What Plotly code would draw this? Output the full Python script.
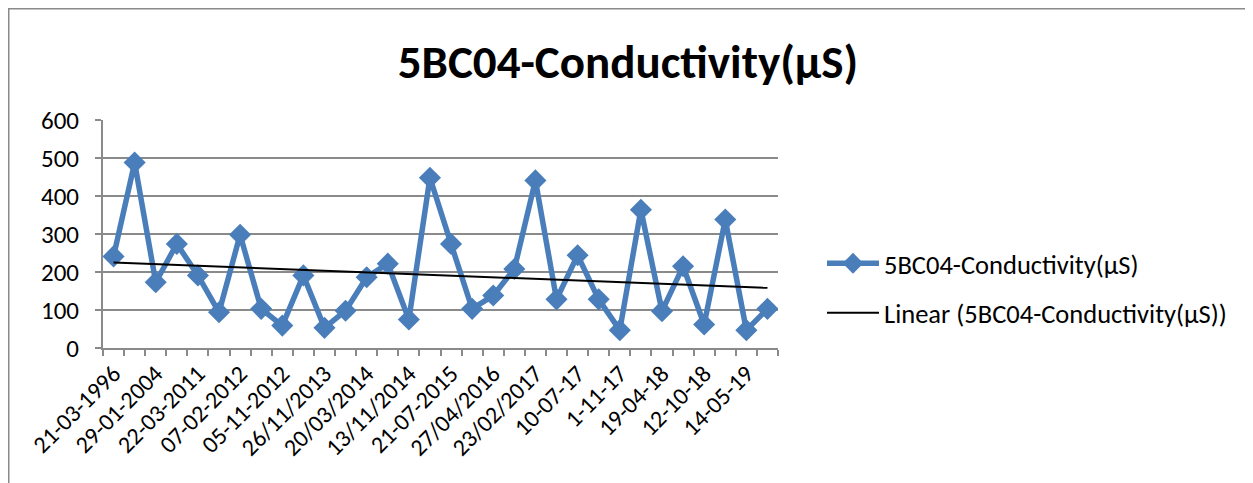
import numpy as np
import plotly.graph_objects as go

# data
tick_labels = ["21-03-1996", "29-01-2004", "22-03-2011", "07-02-2012", "05-11-2012",
               "26/11/2013", "20/03/2014", "13/11/2014", "21-07-2015", "27/04/2016",
               "23/02/2017", "10-07-17", "1-11-17", "19-04-18", "12-10-18", "14-05-19"]
conductivity = [241, 488, 173, 274, 191, 94, 298, 103, 59, 191, 53, 98, 186, 222, 75, 448,
                274, 103, 138, 208, 441, 128, 244, 128, 47, 364, 97, 215, 62, 338, 47, 103]
series_name = "5BC04-Conductivity(µS)"

idx = np.arange(len(conductivity))
slope, intercept = np.polyfit(idx, conductivity, 1)
trend = slope * idx + intercept

# page body has an 8px margin, so the figure is drawn 8px smaller
W, H = 1245, 475
L, R, T, B = 95, 770, 112, 340
pw, ph = R - L, B - T

fig = go.Figure()
fig.add_trace(go.Scatter(
    x=idx, y=conductivity, mode="lines+markers", name=series_name,
    line=dict(color="#4A7EBB", width=5.5),
    marker=dict(symbol="diamond", size=17, color="#4A7EBB"),
    legendgroup="a"))
fig.add_trace(go.Scatter(
    x=idx, y=trend, mode="lines", name="Linear (" + series_name + ")",
    line=dict(color="black", width=2), legendgroup="b"))

grey = "#8a8a8a"
font = "Carlito, Calibri, 'Open Sans', sans-serif"


def px_x(v):
    return (v - L) / pw


def px_y(v):
    return (B - v) / ph


# outer chart border (top and left edges visible)
fig.add_shape(type="line", xref="paper", yref="paper",
              x0=px_x(0), x1=px_x(W + 5), y0=px_y(0.5), y1=px_y(0.5),
              line=dict(color=grey, width=2))
fig.add_shape(type="line", xref="paper", yref="paper",
              x0=px_x(0.5), x1=px_x(0.5), y0=px_y(0), y1=px_y(H + 5),
              line=dict(color=grey, width=2))

fig.update_layout(
    width=W, height=H,
    margin=dict(l=L, r=W - R, t=T, b=H - B, pad=0),
    paper_bgcolor="white", plot_bgcolor="white",
    font=dict(family=font, color="black"),
    title=dict(text="<b>" + series_name + "</b>", x=620 / W, xanchor="center",
               y=1 - 54 / H, yanchor="middle", font=dict(size=47, family=font)),
    legend=dict(x=px_x(814), xanchor="left", y=px_y(280), yanchor="middle",
                font=dict(size=26.5), itemwidth=52, tracegroupgap=12,
                bgcolor="rgba(0,0,0,0)"),
    showlegend=True,
)
fig.update_xaxes(
    range=[-0.5, len(conductivity) - 0.5],
    tickmode="array", tickvals=idx[::2].tolist(), ticktext=tick_labels,
    tickangle=-45, ticks="", tickfont=dict(size=24),
    showgrid=False, zeroline=False,
    showline=True, linecolor=grey, linewidth=2,
    minor=dict(tickmode="linear", tick0=-0.5, dtick=1, ticks="outside",
               ticklen=6, tickcolor=grey, tickwidth=2, showgrid=False),
)
fig.update_yaxes(
    range=[0, 600], dtick=100, tickfont=dict(size=25),
    ticks="outside", ticklen=6, tickcolor=grey, tickwidth=2,
    ticklabelstandoff=11,
    showgrid=True, gridcolor=grey, gridwidth=2,
    zeroline=False, showline=True, linecolor=grey, linewidth=2,
)

fig.write_html("out.html")
